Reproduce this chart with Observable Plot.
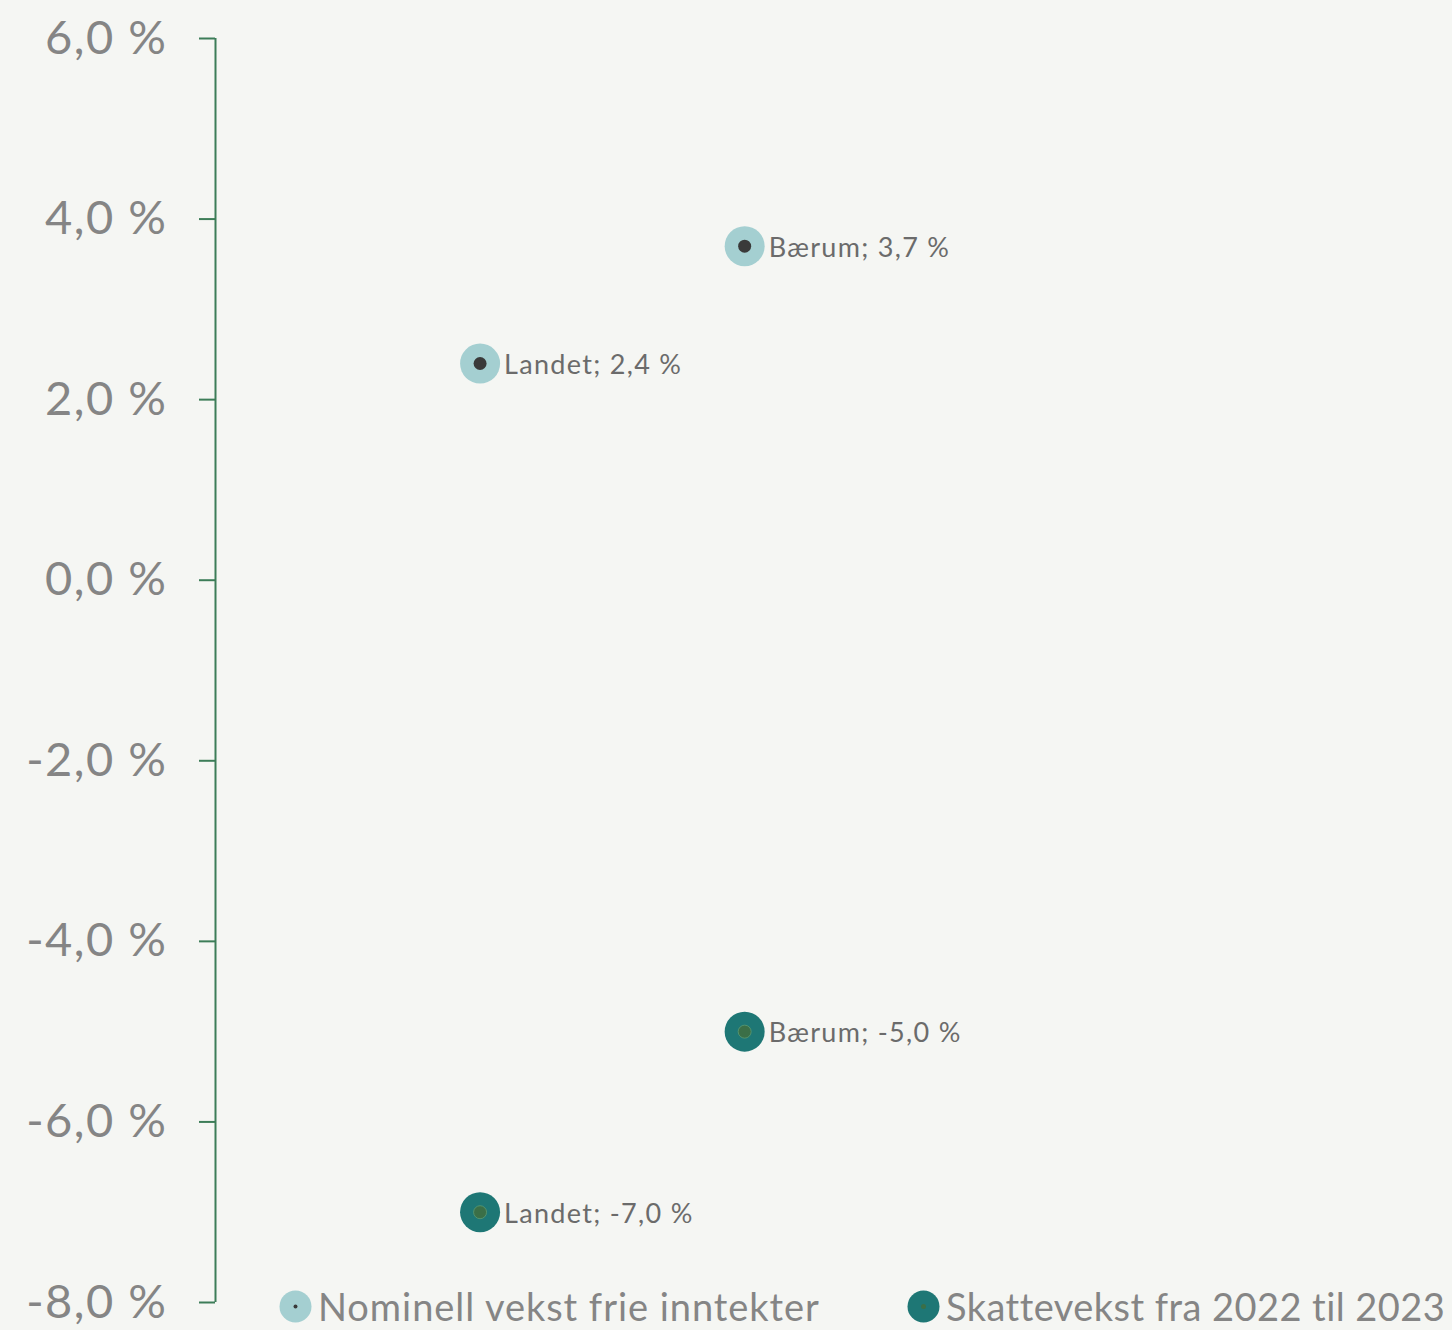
<!DOCTYPE html>
<html>
<head>
<meta charset="utf-8">
<script src="https://cdn.jsdelivr.net/npm/d3@7"></script>
<script src="https://cdn.jsdelivr.net/npm/@observablehq/plot@0.6"></script>
<style>
  html, body { margin: 0; padding: 0; background: #f5f6f3; }
  #wrap { position: relative; width: 1452px; height: 1330px; font-family: Lato, "Open Sans", sans-serif; overflow: hidden; }
  #legend { position: absolute; left: 0; top: 1283px; width: 1452px; height: 46px; }
  .item { position: absolute; top: 0; display: flex; align-items: center; height: 46px; color: #858585; font-size: 38px; white-space: nowrap; }
  .item svg { margin-right: 6px; flex: none; }
  g[aria-label="y-axis tick label"] text { letter-spacing: 1.5px; }
  g[aria-label="text"] text { letter-spacing: 1.3px; }
</style>
</head>
<body>
<div id="wrap"><div id="legend"></div></div>
<script>
const categories = ["Landet", "Bærum"];
const seriesNames = ["Nominell vekst frie inntekter", "Skattevekst fra 2022 til 2023"];
const nominell = [2.4, 3.7];
const skatt = [-7.0, -5.0];
const yTicks = [-8, -6, -4, -2, 0, 2, 4, 6];

const fmt = v => v.toFixed(1).replace(".", ",") + " %";

const data = [];
categories.forEach((c, i) => {
  data.push({cat: c, idx: i + 1, series: seriesNames[0], value: nominell[i]});
  data.push({cat: c, idx: i + 1, series: seriesNames[1], value: skatt[i]});
});

const outerColor = {[seriesNames[0]]: "#a4cfd1", [seriesNames[1]]: "#1e7775"};
const innerColor = {[seriesNames[0]]: "#3a3a3a", [seriesNames[1]]: "#3b6f47"};

const axisColor = "#3d7d58";

const chart = Plot.plot({
  width: 1452,
  height: 1330,
  marginLeft: 215,
  marginRight: 12,
  marginTop: 38,
  marginBottom: 28,
  style: {background: "transparent", fontFamily: "Lato, 'Open Sans', sans-serif"},
  x: {domain: [0, 4.63], axis: null},
  y: {domain: [-8, 6], ticks: yTicks},
  marks: [
    Plot.axisY({
      ticks: yTicks,
      tickFormat: fmt,
      tickSize: 16,
      tickPadding: 32,
      stroke: axisColor,
      strokeWidth: 2,
      strokeOpacity: 1,
      fill: "#858585",
      fontSize: 47,
      label: null
    }),
    Plot.ruleX([0], {y1: -8, y2: 6, stroke: axisColor, strokeWidth: 2}),
    Plot.dot(data, {x: "idx", y: "value", r: 20, fill: d => outerColor[d.series], stroke: "none"}),
    Plot.dot(data, {x: "idx", y: "value", r: 6.5, fill: d => innerColor[d.series],
      stroke: d => d.series === seriesNames[1] ? "#5c9a72" : "none", strokeWidth: 0.8}),
    Plot.text(data, {x: "idx", y: "value", text: d => `${d.cat}; ${fmt(d.value)}`, dx: 24, dy: 2,
      textAnchor: "start", fill: "#6b6b6b", fontSize: 27})
  ]
});

const wrap = document.getElementById("wrap");
wrap.insertBefore(chart, wrap.firstChild);

const legend = document.getElementById("legend");
const legendLeft = [279, 907];
const legendSpacing = ["0.95px", "0.45px"];
seriesNames.forEach((s, i) => {
  const div = document.createElement("div");
  div.className = "item";
  div.style.left = legendLeft[i] + "px";
  div.style.letterSpacing = legendSpacing[i];
  const dotR = i === 0 ? 2 : 2.5;
  div.innerHTML = `<svg width="33" height="33"><circle cx="16.5" cy="16.5" r="16" fill="${outerColor[s]}"/><circle cx="16.5" cy="16.5" r="${dotR}" fill="${innerColor[s]}"/></svg><span>${s}</span>`;
  legend.appendChild(div);
});
</script>
</body>
</html>
